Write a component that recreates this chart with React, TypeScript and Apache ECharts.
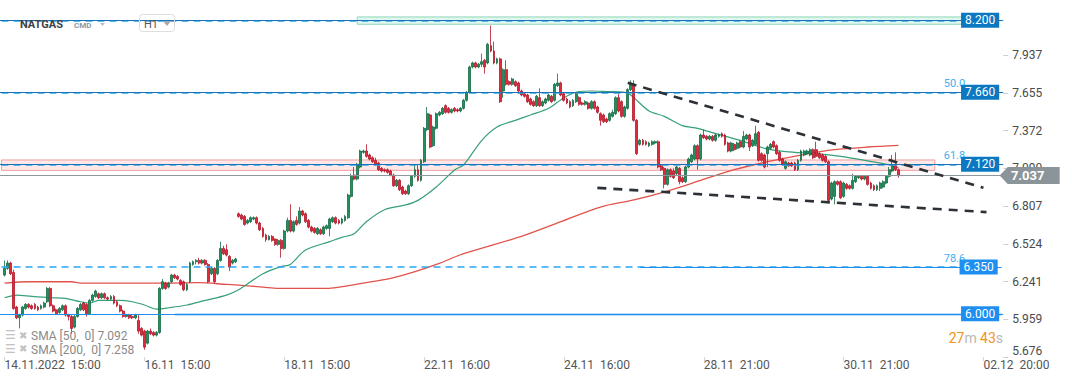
import React, { useEffect, useRef } from 'react';
import * as echarts from 'echarts';

// [open, close, low, high] per H1 candle
const CANDLES: number[][] = [
  [6.29,6.34,6.28,6.40],[6.34,6.38,6.33,6.40],[6.38,6.30,6.29,6.39],[6.31,6.04,6.03,6.33],[6.05,5.97,5.96,6.06],
  [5.97,5.99,5.89,6.00],[5.99,6.05,5.98,6.06],[6.04,6.07,6.03,6.08],[6.07,6.05,6.04,6.08],[6.06,6.04,6.03,6.07],
  [6.07,6.04,6.03,6.08],[6.05,6.03,6.02,6.06],[6.04,6.06,6.03,6.07],[6.05,6.08,6.04,6.09],[6.09,6.19,6.08,6.20],
  [6.19,6.06,6.05,6.20],[6.06,6.02,6.01,6.07],[6.03,6.00,5.99,6.04],[6.01,6.04,6.00,6.05],[6.03,6.06,6.02,6.07],
  [6.06,5.99,5.98,6.07],[5.99,5.98,5.95,6.00],[5.98,5.89,5.85,5.99],[5.90,5.98,5.89,5.99],[5.98,6.04,5.97,6.05],
  [6.03,6.07,6.02,6.08],[6.08,6.03,6.02,6.09],[6.07,6.00,5.98,6.08],[6.00,6.10,5.99,6.11],[6.10,6.14,6.09,6.15],
  [6.13,6.17,6.12,6.18],[6.15,6.12,6.11,6.16],[6.12,6.15,6.11,6.16],[6.15,6.12,6.11,6.16],[6.12,6.11,6.10,6.13],
  [6.11,6.13,6.10,6.14],[6.13,6.08,6.07,6.14],[6.09,6.06,6.05,6.10],[6.06,6.02,6.01,6.07],[6.02,5.98,5.97,6.03],
  [5.98,5.99,5.97,6.00],[5.99,5.97,5.96,6.00],[5.98,5.97,5.96,5.99],[5.97,5.99,5.96,6.00],[5.95,5.87,5.85,5.99],
  [5.89,5.84,5.83,5.90],[5.87,5.75,5.73,5.88],[5.78,5.87,5.77,5.88],[5.87,5.85,5.84,5.89],[5.86,5.84,5.83,5.87],
  [5.84,5.86,5.83,5.87],[5.86,6.19,5.85,6.20],[6.19,6.24,6.18,6.26],[6.23,6.19,6.18,6.24],[6.20,6.23,6.19,6.24],
  [6.24,6.29,6.23,6.30],[6.29,6.27,6.26,6.30],[6.28,6.26,6.25,6.29],[6.25,6.22,6.21,6.26],[6.24,6.18,6.17,6.25],
  [6.18,6.22,6.17,6.23],[6.24,6.38,6.23,6.39],[6.37,6.39,6.36,6.40],[6.39,6.40,6.37,6.41],[6.40,6.38,6.37,6.42],
  [6.38,6.40,6.37,6.41],[6.40,6.37,6.36,6.41],[6.37,6.24,6.23,6.38],[6.30,6.34,6.29,6.35],[6.34,6.24,6.23,6.35],
  [6.30,6.40,6.29,6.41],[6.40,6.49,6.39,6.54],[6.49,6.45,6.44,6.51],[6.48,6.44,6.43,6.52],[6.43,6.35,6.32,6.44],
  [6.38,6.40,6.37,6.41],[6.39,6.41,6.38,6.42],
  [6.75,6.73,6.72,6.76],[6.74,6.71,6.70,6.75],[6.73,6.67,6.66,6.74],[6.68,6.70,6.67,6.71],[6.69,6.72,6.68,6.73],
  [6.71,6.72,6.70,6.73],[6.72,6.68,6.67,6.73],[6.68,6.63,6.62,6.69],[6.64,6.58,6.57,6.65],[6.59,6.555,6.54,6.60],
  [6.555,6.58,6.55,6.59],[6.58,6.55,6.54,6.59],[6.56,6.52,6.51,6.565],[6.52,6.55,6.51,6.56],[6.55,6.49,6.42,6.56],
  [6.49,6.62,6.48,6.63],[6.62,6.70,6.61,6.72],[6.70,6.62,6.61,6.82],[6.62,6.69,6.61,6.70],[6.70,6.67,6.66,6.73],
  [6.68,6.77,6.67,6.80],[6.77,6.74,6.73,6.78],[6.75,6.69,6.68,6.76],[6.70,6.65,6.64,6.71],[6.65,6.62,6.61,6.66],
  [6.64,6.61,6.60,6.65],[6.60,6.64,6.59,6.65],[6.63,6.60,6.59,6.64],[6.60,6.65,6.59,6.66],[6.64,6.66,6.63,6.67],
  [6.64,6.71,6.58,6.72],[6.69,6.72,6.68,6.73],[6.72,6.68,6.67,6.73],[6.70,6.68,6.67,6.71],[6.68,6.71,6.67,6.72],
  [6.70,6.73,6.69,6.74],[6.72,6.89,6.71,6.90],[6.88,7.03,6.87,7.05],[7.04,7.01,7.00,7.10],[7.01,7.12,7.00,7.13],
  [7.10,7.22,7.09,7.23],[7.21,7.22,7.20,7.23],[7.22,7.18,7.17,7.27],[7.19,7.16,7.15,7.20],[7.17,7.14,7.13,7.18],
  [7.15,7.12,7.11,7.17],[7.13,7.08,7.07,7.14],[7.09,7.07,7.06,7.10],[7.08,7.07,7.06,7.09],[7.08,7.06,7.05,7.09],
  [7.07,7.04,7.03,7.08],[7.04,6.96,6.95,7.05],[6.96,7.00,6.95,7.01],[7.00,6.93,6.92,7.01],[6.95,6.90,6.89,6.96],
  [6.92,6.90,6.89,6.93],[6.90,6.96,6.89,6.97],[6.96,7.03,6.95,7.04],[7.03,7.08,7.02,7.12],[7.08,7.00,6.99,7.12],
  [7.00,7.15,6.99,7.16],[7.14,7.39,7.13,7.40],[7.38,7.50,7.37,7.55],[7.49,7.25,7.24,7.50],[7.26,7.40,7.25,7.41],
  [7.39,7.50,7.38,7.51],[7.49,7.51,7.48,7.52],[7.50,7.54,7.49,7.55],[7.56,7.51,7.50,7.57],[7.54,7.51,7.50,7.55],
  [7.51,7.53,7.50,7.54],[7.54,7.52,7.51,7.55],[7.53,7.52,7.51,7.54],[7.52,7.54,7.51,7.55],[7.54,7.60,7.53,7.61],
  [7.60,7.66,7.59,7.67],[7.66,7.85,7.65,7.86],
  [7.85,7.88,7.84,7.89],[7.88,7.85,7.84,7.89],[7.85,7.87,7.84,7.88],[7.87,7.89,7.85,7.95],[7.90,7.85,7.80,7.91],
  [7.88,8.02,7.87,8.03],[8.01,7.97,7.96,8.16],[7.97,7.88,7.87,8.04],[7.88,7.91,7.87,7.92],[7.91,7.59,7.58,7.92],
  [7.67,7.83,7.62,7.84],[7.83,7.72,7.71,7.90],[7.74,7.72,7.71,7.75],[7.72,7.76,7.71,7.77],[7.74,7.71,7.70,7.75],
  [7.73,7.67,7.66,7.74],[7.67,7.64,7.63,7.68],[7.65,7.63,7.62,7.66],[7.64,7.59,7.58,7.65],[7.61,7.57,7.56,7.62],
  [7.59,7.56,7.55,7.60],[7.56,7.63,7.55,7.64],[7.62,7.56,7.55,7.69],[7.56,7.59,7.55,7.60],[7.58,7.61,7.57,7.62],
  [7.60,7.64,7.59,7.65],[7.63,7.59,7.58,7.64],[7.60,7.72,7.59,7.73],[7.71,7.73,7.70,7.80],[7.73,7.64,7.63,7.74],
  [7.65,7.60,7.59,7.66],[7.61,7.58,7.57,7.62],[7.59,7.55,7.54,7.60],[7.56,7.60,7.55,7.61],[7.59,7.65,7.58,7.66],
  [7.62,7.57,7.56,7.63],[7.58,7.57,7.56,7.59],[7.57,7.59,7.56,7.60],[7.58,7.54,7.53,7.59],[7.54,7.59,7.53,7.60],
  [7.59,7.54,7.53,7.60],[7.55,7.51,7.50,7.56],[7.50,7.45,7.41,7.51],[7.49,7.44,7.43,7.50],[7.46,7.44,7.43,7.47],
  [7.45,7.50,7.44,7.51],[7.48,7.51,7.47,7.53],[7.50,7.62,7.49,7.63],[7.62,7.52,7.51,7.65],[7.59,7.48,7.47,7.60],
  [7.48,7.55,7.47,7.56],[7.54,7.68,7.53,7.69],[7.68,7.73,7.67,7.75],[7.72,7.45,7.44,7.75],[7.45,7.20,7.19,7.46],
  [7.27,7.30,7.26,7.31],[7.30,7.27,7.26,7.31],[7.29,7.27,7.26,7.30],[7.26,7.28,7.25,7.29],[7.27,7.29,7.26,7.30],
  [7.28,7.29,7.27,7.30],[7.29,7.10,7.09,7.30],[7.11,7.08,7.07,7.12],[7.09,6.97,6.94,7.10],[6.97,7.08,6.96,7.09],
  [7.08,7.03,7.02,7.09],[7.07,7.02,7.01,7.09],[7.05,7.10,7.04,7.11],[7.09,6.99,6.97,7.10],[7.02,6.99,6.98,7.03],
  [6.99,7.10,6.98,7.11],[7.10,7.16,7.09,7.17],[7.14,7.19,7.13,7.20],[7.16,7.26,7.15,7.27],[7.26,7.16,7.08,7.27],
  [7.16,7.34,7.15,7.35],[7.34,7.32,7.31,7.38],[7.33,7.31,7.30,7.34],[7.31,7.33,7.30,7.34],[7.33,7.30,7.29,7.34],
  [7.30,7.34,7.29,7.35],[7.33,7.34,7.32,7.35],[7.35,7.33,7.32,7.36],[7.34,7.27,7.26,7.35],[7.28,7.22,7.21,7.29],
  [7.22,7.28,7.21,7.29],[7.27,7.23,7.22,7.28],[7.24,7.28,7.23,7.29],[7.29,7.25,7.24,7.30],[7.25,7.33,7.24,7.37],
  [7.31,7.34,7.30,7.35],[7.34,7.25,7.22,7.35],[7.26,7.30,7.25,7.31],[7.27,7.35,7.26,7.41],[7.36,7.15,7.14,7.37],
  [7.20,7.15,7.14,7.21],[7.19,7.10,7.09,7.20],[7.20,7.25,7.10,7.26],[7.24,7.27,7.23,7.28],[7.29,7.25,7.24,7.30],
  [7.26,7.20,7.19,7.27],[7.21,7.15,7.14,7.22],[7.16,7.12,7.11,7.17],[7.09,7.14,7.08,7.15],[7.13,7.11,7.10,7.14],
  [7.13,7.11,7.10,7.14],[7.13,7.08,7.07,7.14],[7.08,7.15,7.07,7.16],[7.15,7.22,7.14,7.23],[7.19,7.22,7.18,7.23],
  [7.20,7.22,7.19,7.23],[7.19,7.23,7.18,7.24],[7.23,7.17,7.16,7.24],[7.23,7.18,7.17,7.29],[7.20,7.17,7.16,7.21],
  [7.19,7.15,7.14,7.20],[7.18,7.14,7.13,7.19],[7.14,6.85,6.84,7.15],[6.86,6.98,6.85,6.99],[6.88,6.99,6.82,7.00],
  [6.99,6.97,6.96,7.00],[6.99,6.87,6.86,7.00],[6.88,6.98,6.87,6.99],[6.97,6.94,6.93,6.98],[6.96,6.94,6.93,6.97],
  [6.94,7.00,6.93,7.05],[6.99,7.03,6.98,7.04],[7.02,7.03,7.01,7.04],[7.03,7.01,7.00,7.04],[7.01,7.03,7.00,7.04],
  [7.03,6.97,6.96,7.04],[6.98,6.94,6.93,6.99],[6.96,6.93,6.92,6.97],[6.93,6.96,6.92,6.97],[6.94,6.98,6.92,6.99],
  [6.95,6.99,6.94,7.00],[6.98,7.03,6.97,7.04],[7.03,7.08,7.02,7.10],[7.07,7.11,7.06,7.19],[7.11,7.08,7.07,7.21],
  [7.08,7.037,7.02,7.09]
];

// moving averages: [candle index, value]
const SMA50: number[][] = [
  [0,6.12],[4,6.14],[9,6.13],[15,6.12],[20,6.115],[25,6.09],[28,6.08],[31,6.10],[38,6.10],[42,6.09],
  [46,6.066],[50,6.035],[54,6.045],[60,6.066],[66,6.10],[73,6.14],[77,6.18],[85,6.30],[91,6.354],[94,6.37],
  [99,6.478],[107,6.541],[111,6.573],[115,6.60],[119,6.69],[125,6.78],[132,6.816],[136,6.85],[142,6.95],
  [148,7.078],[151,7.116],[157,7.30],[162,7.40],[168,7.45],[173,7.49],[179,7.54],[184,7.62],[189,7.666],
  [193,7.67],[198,7.666],[204,7.66],[206,7.64],[212,7.52],[217,7.48],[223,7.41],[228,7.39],[234,7.35],
  [242,7.30],[250,7.24],[257,7.216],[267,7.20],[275,7.18],[283,7.15],[291,7.116],[294,7.095]
];
const SMA200: number[][] = [
  [0,6.23],[8,6.24],[22,6.24],[25,6.23],[42,6.23],[53,6.23],[64,6.233],[73,6.22],[77,6.215],[85,6.20],
  [90,6.19],[106,6.19],[110,6.20],[118,6.23],[127,6.266],[135,6.316],[143,6.378],[151,6.45],[170,6.58],
  [183,6.69],[196,6.80],[207,6.853],[218,6.92],[229,7.0],[240,7.08],[251,7.14],[262,7.19],[273,7.23],
  [284,7.25],[294,7.262]
];

const X_LABELS = ['14.11.2022  15:00', '16.11  15:00', '18.11  15:00', '22.11  16:00', '24.11  16:00', '28.11  21:00', '30.11  21:00', '02.12  20:00'];
const X_LABEL_CANDLE = [0, 46, 92, 138, 184, 230, 276, 322];
const Y_TICKS = [5.676, 5.959, 6.241, 6.524, 6.807, 7.090, 7.372, 7.655, 7.937];

const UPPER_TREND: number[][] = [[205, 7.731], [322, 6.944]];
const LOWER_TREND: number[][] = [[195, 6.944], [323, 6.762]];

const LAST_PRICE = 7.037;
const ALERT_LEVELS = [8.2, 7.66, 7.12];
const FIB_LEVELS = [7.66, 7.12, 6.35];
const FIB_NAMES = ['50.0', '61.8', '78.6'];
const LOW_LEVELS = [6.35, 6.0];
const PINK_ZONE = [7.153, 7.075];
const GREEN_ZONE = [8.225, 8.17];
const SMA_LEGEND = ['SMA [50,  0] 7.092', 'SMA [200,  0] 7.258'];

const SLOT_COUNT = 330; // one empty slot before first candle + future slots
const slot = (i: number) => i + 1;

export default function App() {
  const ref = useRef<HTMLDivElement>(null);
  useEffect(() => {
    if (!ref.current) return;
    const chart = echarts.init(ref.current, undefined, { renderer: 'svg' });
    const categories = Array.from({ length: SLOT_COUNT }, (_, k) => String(k));
    const labelSlots = X_LABEL_CANDLE.map(slot);
    const dark = '#0c78c1';
    const bright = '#1e8ef0';
    const dashBlue = '#29a5f2';
    const tag = (text: string, bg: string) => ({
      show: true, position: 'insideEnd', formatter: text, backgroundColor: bg, color: '#fff',
      fontSize: 12, fontFamily: 'Roboto', padding: [2, 4, 1, 4], lineHeight: 12, distance: [4, 0]
    });
    const markLines: any[] = [];
    markLines.push({ yAxis: LAST_PRICE, lineStyle: { color: '#8d969b', width: 1, type: 'solid' } });
    FIB_LEVELS.forEach((v, k) => {
      markLines.push([
        { coord: [0, v], lineStyle: { color: dashBlue, width: 1.6, type: [7, 5] },
          label: { show: true, position: 'insideEndTop', formatter: FIB_NAMES[k], color: '#3cb0f2', fontSize: 11, fontFamily: 'Roboto', distance: [0, 3] } },
        { coord: [317, v] }
      ]);
    });
    markLines.push([
      { coord: [0, 8.2], lineStyle: { color: dashBlue, width: 1.6, type: [7, 5] } },
      { coord: [318, 8.2] }
    ]);
    ALERT_LEVELS.forEach((v) => {
      markLines.push({ yAxis: v, lineStyle: { color: '#1a72b8', width: 1, type: 'solid' }, label: tag(v.toFixed(3), dark) });
    });
    markLines.push([
      { coord: [210, LOW_LEVELS[0]], lineStyle: { color: bright, width: 1, type: 'solid' }, label: tag(LOW_LEVELS[0].toFixed(3), bright) },
      { coord: [SLOT_COUNT - 1, LOW_LEVELS[0]] }
    ]);
    markLines.push([
      { coord: [57, LOW_LEVELS[1]], lineStyle: { color: 'rgba(110,185,240,0.45)', width: 3, type: 'solid' } },
      { coord: [SLOT_COUNT - 1, LOW_LEVELS[1]] }
    ]);
    markLines.push({ yAxis: LOW_LEVELS[1], lineStyle: { color: bright, width: 1.2, type: 'solid' }, label: tag(LOW_LEVELS[1].toFixed(3), bright) });

    const option: any = {
      animation: false,
      textStyle: { fontFamily: 'Roboto' },
      grid: { left: 0, right: 1072 - SLOT_COUNT * 3.04, top: 0, bottom: 25, containLabel: false, outerBoundsMode: 'none' },
      xAxis: {
        type: 'category', data: categories, boundaryGap: true,
        axisLine: { show: false },
        axisTick: { show: true, alignWithLabel: true, length: 4, interval: (idx: number) => labelSlots.includes(idx), lineStyle: { color: '#d4d4d4' } },
        axisLabel: {
          interval: (idx: number) => labelSlots.includes(idx),
          formatter: (val: string) => { const k = labelSlots.indexOf(Number(val)); return k >= 0 ? X_LABELS[k] : ''; },
          align: 'left', color: '#555', fontSize: 12, margin: 2
        },
        splitLine: { show: false }
      },
      yAxis: {
        type: 'value', position: 'right', min: 5.676, max: 8.352, scale: true,
        axisLine: { show: false },
        axisTick: { show: true, length: 5, customValues: Y_TICKS, lineStyle: { color: '#cfcfcf' } },
        axisLabel: { customValues: Y_TICKS, formatter: (v: number) => v.toFixed(3), color: '#4a4a4a', fontSize: 12, margin: 9, verticalAlignMinLabel: 'bottom' },
        splitLine: { show: false }
      },
      series: [
        {
          type: 'line', name: 'SMA200', data: SMA200.map(([i, v]) => [slot(i), v]), showSymbol: false, smooth: 0.3,
          lineStyle: { color: '#e2524c', width: 1.3 }, z: 1, silent: true
        },
        {
          type: 'line', name: 'SMA50', data: SMA50.map(([i, v]) => [slot(i), v]), showSymbol: false, smooth: 0.3,
          lineStyle: { color: '#36a078', width: 1.2 }, z: 1, silent: true
        },
        {
          type: 'candlestick', name: 'NATGAS', data: CANDLES.map((c, i) => [slot(i), ...c]),
          encode: { x: 0, y: [1, 2, 3, 4] }, barWidth: 2.4, z: 2,
          itemStyle: { color: '#1f9060', color0: '#df2b3b', borderColor: '#146b43', borderColor0: '#b3172a', borderWidth: 0.8 }
        },
        {
          type: 'line', name: 'trendUp', data: UPPER_TREND.map(([i, v]) => [slot(i), v]), showSymbol: false,
          lineStyle: { color: '#2b3136', width: 2.6, type: [9, 7] }, z: 5, silent: true
        },
        {
          type: 'line', name: 'trendDown', data: LOWER_TREND.map(([i, v]) => [slot(i), v]), showSymbol: false,
          lineStyle: { color: '#2b3136', width: 2.6, type: [9, 7] }, z: 5, silent: true
        },
        {
          type: 'line', name: 'levels', data: [], z: 10, silent: true,
          markArea: {
            silent: true,
            data: [
              [{ coord: [117, GREEN_ZONE[0]], itemStyle: { color: 'rgba(200,240,224,0.55)', borderColor: '#8fd6bb', borderWidth: 1 } }, { coord: [318, GREEN_ZONE[1]] }],
              [{ coord: [0, PINK_ZONE[0]], itemStyle: { color: 'rgba(251,212,212,0.55)', borderColor: 'rgba(240,150,150,0.9)', borderWidth: 1 } }, { coord: [307, PINK_ZONE[1]] }]
            ]
          },
          markLine: { silent: true, symbol: ['none', 'none'], label: { show: false }, data: markLines },
          markPoint: {
            silent: true,
            data: [{
              coord: [SLOT_COUNT - 1, LAST_PRICE], symbol: 'path://M0,8.5 L8,0 L60,0 L60,17 L8,17 Z', symbolSize: [60, 17], symbolOffset: [28, 0],
              itemStyle: { color: '#8a9499' },
              label: { show: true, position: 'inside', formatter: LAST_PRICE.toFixed(3), color: '#fff', fontWeight: 'bold', fontSize: 13, fontFamily: 'Roboto', offset: [-2, 0] }
            }]
          }
        }
      ],
      graphic: [
        { type: 'text', x: 20, y: 24, style: { text: 'NATGAS', fontSize: 11, fontWeight: 'bold', fontFamily: 'Roboto', fill: '#3d4247', verticalAlign: 'middle' }, z: 20 },
        { type: 'text', x: 74, y: 25, style: { text: 'CMD', fontSize: 8, fontWeight: 'bold', fontFamily: 'Roboto', fill: '#8d98a3', verticalAlign: 'middle' }, z: 20 },
        { type: 'polygon', shape: { points: [[100, 23], [105, 23], [102.5, 26]] }, style: { fill: '#b8bec4' }, z: 20 },
        { type: 'rect', shape: { x: 139.5, y: 14.5, width: 35, height: 17, r: 3 }, style: { fill: 'none', stroke: '#dedede', lineWidth: 1 }, z: 20 },
        { type: 'text', x: 144, y: 24, style: { text: 'H1', fontSize: 11, fontFamily: 'Roboto', fill: '#555', verticalAlign: 'middle' }, z: 20 },
        { type: 'polygon', shape: { points: [[163, 21], [171, 21], [167, 26]] }, style: { fill: '#a9a9a9' }, z: 20 },
        ...SMA_LEGEND.flatMap((t, k) => [
          { type: 'text', x: 5, y: 335 + k * 13.5, style: { text: '☰', fontSize: 12, fontFamily: 'DejaVu Sans', fill: '#c2c2c2', verticalAlign: 'middle' }, z: 20 },
          { type: 'text', x: 19, y: 335 + k * 13.5, style: { text: '✖', fontSize: 10, fontFamily: 'DejaVu Sans', fill: '#c2c2c2', verticalAlign: 'middle' }, z: 20 },
          { type: 'text', x: 31, y: 336 + k * 13.5, style: { text: t, fontSize: 12, fontFamily: 'Roboto', fill: '#8a8a8a', verticalAlign: 'middle' }, z: 20 }
        ]),
        {
          type: 'text', x: 1003, y: 338, z: 20,
          style: {
            text: '{o|27}{g|m} {o|43}{g|s}', align: 'right', verticalAlign: 'middle',
            rich: { o: { fill: '#f39322', fontSize: 14, fontFamily: 'Roboto' }, g: { fill: '#b9b9b9', fontSize: 14, fontFamily: 'Roboto' } }
          }
        }
      ]
    };
    chart.setOption(option);
    return () => chart.dispose();
  }, []);
  return <div ref={ref} style={{ position: 'fixed', left: 0, top: 0, width: 1072, height: 382, background: '#fff' }} />;
}
